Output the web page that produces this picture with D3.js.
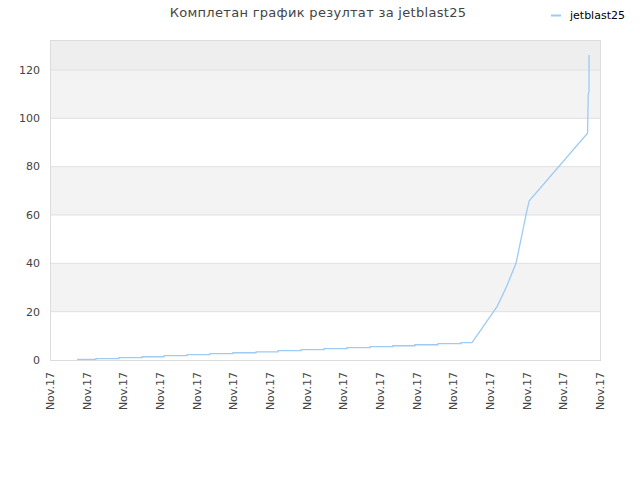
<!DOCTYPE html>
<html>
<head>
<meta charset="utf-8">
<script src="https://cdn.jsdelivr.net/npm/d3@7"></script>
<style>
  body { margin: 0; background: #fff; }
  svg { display: block; font-family: "DejaVu Sans", sans-serif; }
</style>
</head>
<body>
<div id="viz"></div>
<script>
// Chart data (x in tick units along the day, y = score)
const xTickLabels = ["Nov.17", "Nov.17", "Nov.17", "Nov.17", "Nov.17", "Nov.17", "Nov.17", "Nov.17",
  "Nov.17", "Nov.17", "Nov.17", "Nov.17", "Nov.17", "Nov.17", "Nov.17", "Nov.17"];
const yTicks = [0, 20, 40, 60, 80, 100, 120];
const seriesName = "jetblast25";

// staircase part: x where each step starts, and its value
const stepX = [0.74, 1.25, 1.88, 2.51, 3.11, 3.74, 4.36, 4.99, 5.62, 6.22,
  6.85, 7.47, 8.10, 8.73, 9.35, 9.95, 10.58, 11.21];
const stepY = [0.3, 0.55, 0.95, 1.35, 1.8, 2.2, 2.6, 3.0, 3.4, 3.85,
  4.3, 4.7, 5.1, 5.5, 5.9, 6.3, 6.75, 7.2];
// rising part after the last step
const riseX = [11.51, 12.20, 12.45, 12.71, 12.86, 13.00, 13.07, 14.66, 14.68, 14.70, 14.70];
const riseY = [7.2, 22.3, 30.3, 40.0, 51.0, 61.4, 65.9, 93.8, 110.0, 111.0, 126.2];

const width = 640, height = 480;
const margin = { top: 40, right: 40, bottom: 120, left: 50 };

const svg = d3.select("#viz").append("svg")
  .attr("width", width)
  .attr("height", height);

const x = d3.scaleLinear().domain([0, xTickLabels.length - 1]).range([margin.left, width - margin.right]);
const y = d3.scaleLinear().domain([0, 132.4]).range([height - margin.bottom, margin.top]);

// background bands
const bands = d3.range(0, 140, 20).map(v => ({ lo: v, hi: Math.min(v + 20, 132.4) }));
svg.append("g").selectAll("rect")
  .data(bands)
  .join("rect")
  .attr("x", x(0))
  .attr("width", x(15) - x(0))
  .attr("y", d => y(d.hi))
  .attr("height", d => y(d.lo) - y(d.hi))
  .attr("fill", d => d.lo >= 120 ? "#eeeeee" : (d.lo / 20) % 2 === 1 ? "#f3f3f3" : "#ffffff");

// horizontal grid
svg.append("g").selectAll("line")
  .data(yTicks.filter(v => v > 0))
  .join("line")
  .attr("x1", x(0)).attr("x2", x(15))
  .attr("y1", d => y(d)).attr("y2", d => y(d))
  .attr("stroke", "#e0e0e0");

// frame
svg.append("rect")
  .attr("x", x(0) + 0.5).attr("y", y(132.4) + 0.5)
  .attr("width", x(15) - x(0)).attr("height", y(0) - y(132.4))
  .attr("fill", "none").attr("stroke", "#dcdcdc");

// y labels
svg.append("g").selectAll("text")
  .data(yTicks)
  .join("text")
  .attr("x", x(0) - 10)
  .attr("y", d => y(d))
  .attr("dy", "0.35em")
  .attr("text-anchor", "end")
  .attr("font-size", 11)
  .attr("fill", "#444")
  .text(d => d);

// x labels (rotated)
svg.append("g").selectAll("text")
  .data(xTickLabels)
  .join("text")
  .attr("transform", (d, i) => `translate(${x(i)},${y(0) + 12}) rotate(-90)`)
  .attr("dy", "0.35em")
  .attr("text-anchor", "end")
  .attr("font-size", 11)
  .attr("fill", "#444")
  .text(d => d);

// line
const pts = stepX.map((v, i) => [v, stepY[i]]).concat(riseX.map((v, i) => [v, riseY[i]]));
const stairs = pts.slice(0, stepX.length + 1);
const rest = pts.slice(stepX.length);

svg.append("path")
  .attr("d", d3.line().x(d => x(d[0])).y(d => y(d[1])).curve(d3.curveStepAfter)(stairs))
  .attr("fill", "none").attr("stroke", "#9ecaf3").attr("stroke-width", 1.3);
svg.append("path")
  .attr("d", d3.line().x(d => x(d[0])).y(d => y(d[1]))(rest))
  .attr("fill", "none").attr("stroke", "#9ecaf3").attr("stroke-width", 1.3);

// title
svg.append("text")
  .attr("x", 318).attr("y", 17)
  .attr("text-anchor", "middle")
  .attr("font-size", 13)
  .attr("letter-spacing", 0.3)
  .attr("fill", "#444")
  .text("Комплетан график резултат за " + seriesName);

// legend
svg.append("line")
  .attr("x1", 551).attr("x2", 561).attr("y1", 15.5).attr("y2", 15.5)
  .attr("stroke", "#9ecaf3").attr("stroke-width", 2);
svg.append("text")
  .attr("x", 570).attr("y", 15)
  .attr("dy", "0.35em")
  .attr("font-size", 11)
  .attr("fill", "#000")
  .text(seriesName);
</script>
</body>
</html>
